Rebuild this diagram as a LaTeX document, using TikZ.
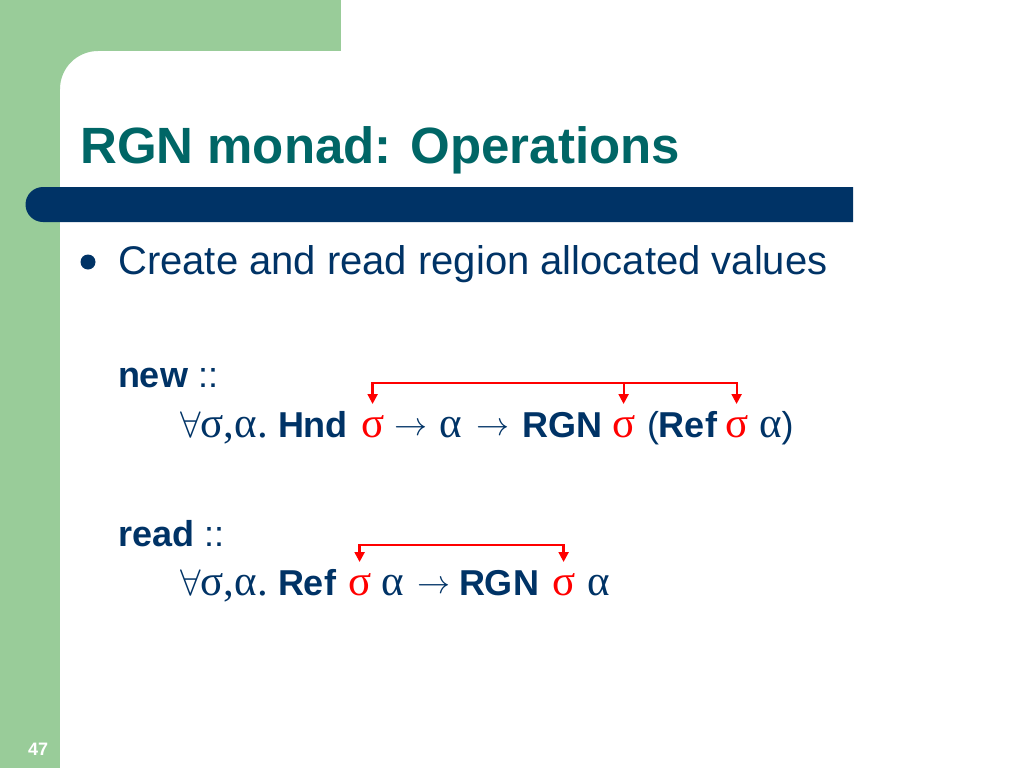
\RequirePackage{fix-cm}
\documentclass[tikz,border=0pt]{standalone}
\usepackage{fontspec}
\setmainfont{Liberation Sans}
\newfontfamily\symf{Liberation Serif}
\usetikzlibrary{arrows.meta}
\definecolor{navy}{RGB}{0,51,102}
\definecolor{tealt}{RGB}{0,102,102}
\definecolor{lgreen}{RGB}{153,204,153}
\definecolor{rred}{RGB}{255,0,0}
\newcommand{\gk}[1]{{\fontsize{43}{48}\selectfont\symf #1}}
\newcommand{\fa}{{\fontsize{37}{43}\selectfont$\forall$}}
\newcommand{\ar}{{\fontsize{33}{38}\selectfont\raisebox{2pt}{$\rightarrow$}}}
\begin{document}
\begin{tikzpicture}[x=1pt,y=-1pt,
  tok/.style={inner sep=0pt, outer sep=0pt, anchor=base west, text=navy, font=\fontsize{36}{43}\selectfont},
  sig/.style={tok, text=rred},
  rl/.style={draw=rred, line width=2.2pt, line join=miter},
  tip/.style={-{Triangle[width=10pt,length=10pt]}},
  tips/.style={{Triangle[width=10pt,length=10pt]}-{Triangle[width=10pt,length=10pt]}}
]
\useasboundingbox (0,0) rectangle (1024,768);
\fill[white] (0,0) rectangle (1024,768);
% green frame
\fill[lgreen] (0,0) rectangle (341,51);
\fill[lgreen] (0,0) rectangle (60,768);
\fill[lgreen] (60,51) -- (98,51) arc[start angle=90, end angle=180, radius=38pt] -- cycle;
% blue bar
\fill[navy] (43,187) -- (853,187) -- (853,222) -- (43,222) arc[start angle=270, end angle=90, radius=17.5pt] -- cycle;
% title
\node[anchor=base west, inner sep=0pt, text=tealt, font=\bfseries\fontsize{51}{60}\selectfont] (title) at (80,163) {RGN monad: Operations};
% bullet
\node[circle, fill=navy, minimum size=15pt, inner sep=0pt] (dot) at (88,262) {};
\node[anchor=base west, inner sep=0pt, text=navy, font=\fontsize{40}{48}\selectfont] (b1) at (118,274) {Create and read region allocated values};
% new
\node[tok] (new) at (118,387) {\textbf{new} ::};
\node[tok] (n1) at (180,437) {\fa\gk{σ,α.}};
\node[tok] (n2) at (278,437) {\bfseries Hnd};
\node[sig] (n3) at (361,437) {\gk{σ}};
\node[tok] (n4) at (394,437) {\ar};
\node[tok] (n4b) at (439,437) {\gk{α}};
\node[tok] (n4c) at (476,437) {\ar};
\node[tok] (n5) at (522,437) {\bfseries RGN};
\node[sig] (n6) at (612,437) {\gk{σ}};
\node[tok] (n7) at (647,437) {(\textbf{Ref}};
\node[sig] (n8) at (725,437) {\gk{σ}};
\node[tok] (n9) at (759,437) {\gk{α})};
\coordinate (newbar) at (0,383);
\draw[rl, tips, shorten <=11pt, shorten >=11pt] (n3.north) -- (n3.north |- newbar) -- (n8.north |- newbar) -- (n8.north);
\draw[rl, tip, shorten >=11pt] (n6.north |- newbar) -- (n6.north);
% read
\node[tok] (read) at (118,546) {\textbf{read} ::};
\node[tok] (r1) at (180,595) {\fa\gk{σ,α.}};
\node[tok] (r2) at (278,595) {\bfseries Ref};
\node[sig] (r3) at (348,595) {\gk{σ}};
\node[tok] (r4) at (381,595) {\gk{α}};
\node[tok] (r4b) at (417,595) {\ar};
\node[tok] (r5) at (459,595) {\bfseries RGN};
\node[sig] (r6) at (552,595) {\gk{σ}};
\node[tok] (r7) at (587,595) {\gk{α}};
\coordinate (readbar) at (0,545);
\draw[rl, tips, shorten <=11pt, shorten >=11pt] (r3.north) -- (r3.north |- readbar) -- (r6.north |- readbar) -- (r6.north);
% page number
\node[anchor=base west, inner sep=0pt, text=white, font=\bfseries\fontsize{18}{20}\selectfont] (pg) at (28,755) {47};
\end{tikzpicture}
\end{document}
